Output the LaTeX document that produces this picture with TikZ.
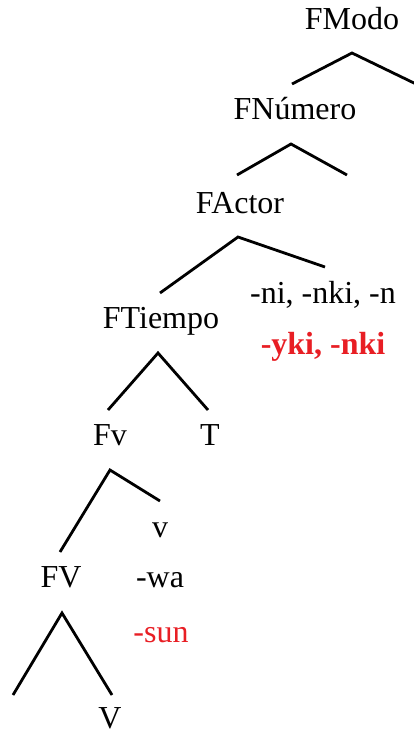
\documentclass[tikz,border=0pt]{standalone}
\usepackage{fontspec}
\setmainfont{Liberation Serif}
\definecolor{morphred}{RGB}{232,30,36}
\begin{document}
\begin{tikzpicture}[x=1pt,y=-1pt,
  lbl/.style={anchor=base,inner sep=0pt,font=\fontsize{32}{36}\selectfont},
  redlbl/.style={lbl,text=morphred},
  branch/.style={line width=2.8pt}]
\useasboundingbox (0,0) rectangle (414,733);
% labels
\node[lbl] (fmodo) at (352,30) {FModo};
\node[lbl] (fnum) at (295,120) {FNúmero};
\node[lbl] (factor) at (240,213) {FActor};
\node[lbl] (ni) at (323,303) {-ni, -nki, -n};
\node[lbl] (ftiempo) at (161,328) {FTiempo};
\node[redlbl,font=\fontsize{32}{36}\selectfont\bfseries] (yki) at (323,354) {-yki, -nki};
\node[lbl] (fvv) at (110,445) {Fv};
\node[lbl] (t) at (210,445) {T};
\node[lbl] (v) at (160,537) {v};
\node[lbl] (fvb) at (61,587) {FV};
\node[lbl] (wa) at (160,587) {-wa};
\node[redlbl] (sun) at (161,642) {-sun};
\node[lbl,text depth=0pt] (vb) at (110,728) {V};
% branch points
\coordinate (a1) at (352,53);
\coordinate (l1) at (292,84);
\coordinate (r1) at (416,84);
\coordinate (a2) at (291,144);
\coordinate (l2) at (237,175);
\coordinate (r2) at (347,175);
\coordinate (a3) at (238,237);
\coordinate (l3) at (160,293);
\coordinate (r3) at (325,267);
\coordinate (a4) at (158,353);
\coordinate (l4) at (108,410);
\coordinate (r4) at (208,410);
\coordinate (a5) at (110,470);
\coordinate (l5) at (60,552);
\coordinate (r5) at (160,501);
\coordinate (a6) at (62,613);
\coordinate (l6) at (13,695);
\coordinate (r6) at (112,695);
% branches
\draw[branch] (l1) -- (a1) -- (r1);
\draw[branch] (l2) -- (a2) -- (r2);
\draw[branch] (l3) -- (a3) -- (r3);
\draw[branch] (l4) -- (a4) -- (r4);
\draw[branch] (l5) -- (a5) -- (r5);
\draw[branch] (l6) -- (a6) -- (r6);
\end{tikzpicture}
\end{document}
